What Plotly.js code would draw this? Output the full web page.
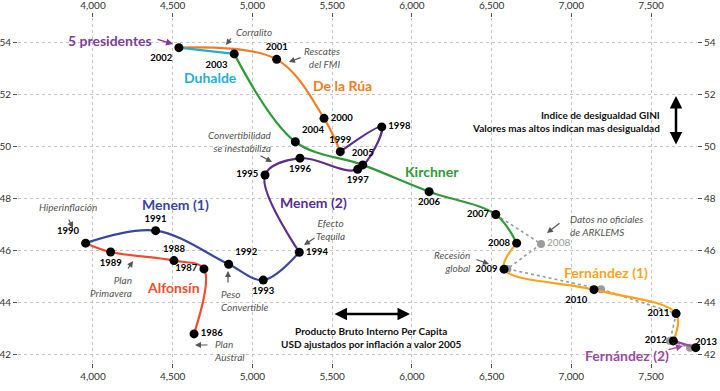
<!DOCTYPE html>
<html>
<head>
<meta charset="utf-8">
<script src="https://cdn.plot.ly/plotly-3.0.1.min.js"></script>
<style>html,body{margin:0;padding:0;background:#fff;}#chart{width:720px;height:391px;}</style>
</head>
<body>
<div id="chart"></div>
<script>
// ---- data ----
const years = [1986,1987,1988,1989,1990,1991,1992,1993,1994,1995,1996,1997,1998,1999,2000,2001,2002,2003,2004,2005,2006,2007,2008,2009,2010,2011,2012,2013];
const gdp   = [4634,4696,4508,4111,3954,4393,4851,5068,5294,5079,5298,5660,5811,5551,5449,5152,4539,4886,5269,5692,6108,6526,6657,6578,7142,7657,7640,7780];
const gini  = [42.81,45.31,45.63,45.96,46.30,46.78,45.49,44.88,45.95,48.92,49.57,49.14,50.77,49.82,51.10,53.37,53.82,53.58,50.20,49.31,48.28,47.40,46.30,45.30,44.51,43.59,42.54,42.28];

const arkYears = [2007,2008,2009,2010,2011,2012,2013];
const arkGdp   = [6526,6810,6599,7186,7657,7619,7744];
const arkGini  = [47.40,46.27,45.31,44.53,43.59,42.54,42.28];

const presNames = ['Alfonsín','Menem (1)','Menem (2)','De la Rúa','Duhalde','Kirchner','Fernández (1)','Fernández (2)'];
const presStart = [1986,1990,1994,1999,2002,2003,2008,2012];
const presEnd   = [1990,1994,1999,2002,2003,2008,2012,2013];

const xTicks = [4000,4500,5000,5500,6000,6500,7000,7500];
const yTicks = [42,44,46,48,50,52,54];

// ---- styles ----
const presColors = ['#ef4c2c','#3a45a0','#5b2e8f','#f47b22','#1eb0d2','#2f9a38','#f9a51b','#9b4c9e'];
const labelPos = ['middle right','middle left','top center','bottom center','top left','top center','top right','bottom center','middle right',
  'middle left','bottom center','bottom center','middle right','top center','middle right','top center','bottom left','bottom left',
  'top right','top center','bottom center','middle left','middle left','middle left','bottom left','middle left','middle left','top right'];

const FONT = 'Lato, "Open Sans", sans-serif';
const X0=3530, X1=7788, Y0=41.69, Y1=54.96;
const L=18, R=697, T=18, B=363;
function dx(p){return X0+(p-L)/(R-L)*(X1-X0);}
function dy(p){return Y1-(p-T)/(B-T)*(Y1-Y0);}

const lastIdx = years.length-1;
const traces = [];
// unofficial ARKLEMS series
traces.push({
  x: arkGdp, y: arkGini, mode:'lines+markers+text', type:'scatter',
  line:{color:'#9a9a9a', width:1.6, dash:'dot'},
  marker:{color:'#9a9a9a', size:8},
  text: arkYears.map(y => y===2008 ? String(y) : ''),
  textposition:'middle right',
  textfont:{family:FONT, size:10, color:'#9a9a9a'},
  cliponaxis:false, hoverinfo:'skip'
});
// president segments
presNames.forEach((n,i) => {
  const a = years.indexOf(presStart[i]), b = years.indexOf(presEnd[i]);
  traces.push({
    x: gdp.slice(a,b+1), y: gini.slice(a,b+1), mode:'lines', type:'scatter',
    line:{color:presColors[i], width:2.2, shape:'spline', smoothing:1},
    name:n, cliponaxis:false, hoverinfo:'skip'
  });
});
// official points (last year's label is placed as an annotation so it stays inside the page)
traces.push({
  x: gdp, y: gini, mode:'markers+text', type:'scatter',
  marker:{color:'#000', size:9},
  text: years.map((y,i) => i===lastIdx ? '' : '<b>'+y+'</b>'),
  textposition: labelPos,
  textfont:{family:FONT, size:9.5, color:'#000'},
  cliponaxis:false, hoverinfo:'skip'
});
// dummy for top/right axes
traces.push({x: gdp, y: gini, xaxis:'x2', yaxis:'y2', mode:'markers', marker:{opacity:0}, hoverinfo:'skip'});

const axBase = {
  showgrid:true, gridcolor:'#c4c4c4', griddash:'dot', gridwidth:1,
  zeroline:false, showline:false, ticks:'outside', ticklen:4, tickwidth:1, tickcolor:'#555',
  tickfont:{family:FONT, size:10, color:'#333'}
};
const xa = Object.assign({}, axBase, {range:[X0,X1], tickvals:xTicks, ticktext:xTicks.map(v=>v.toLocaleString('en-US'))});
const ya = Object.assign({}, axBase, {range:[Y0,Y1], tickvals:yTicks, ticktext:yTicks.map(String)});

const ann = [];
function arrow(hx,hy,tx,ty,color,width){
  ann.push({x:dx(hx), y:dy(hy), ax:tx-hx, ay:ty-hy, text:'', showarrow:true,
    arrowhead:2, arrowsize:1, arrowwidth:width||1.2, arrowcolor:color||'#555'});
}
function note(txt,px,py,anchor,opts){
  ann.push(Object.assign({x:dx(px), y:dy(py), text:txt, showarrow:false, xanchor:anchor||'center', yanchor:'middle',
    align:anchor==='right'?'right':(anchor==='left'?'left':'center'),
    font:{family:FONT, size:10, color:'#555'}}, opts||{}));
}
// last year label
ann.push({x:gdp[lastIdx], y:gini[lastIdx], text:'<b>'+years[lastIdx]+'</b>', showarrow:false,
  xanchor:'right', yanchor:'middle', xshift:24, yshift:6,
  font:{family:FONT, size:9.5, color:'#000'}});
// italic notes
note('<i>Hiperinflación</i>',68,207,'center');
note('<i>Plan<br>Primavera</i>',134,286,'right');
note('<i>Peso<br>Convertible</i>',219,300,'left');
note('<i>Plan<br>Austral</i>',212,350,'left');
note('<i>Efecto<br>Tequila</i>',330,229,'center');
note('<i>Convertibilidad<br>se inestabiliza</i>',274,141,'right');
note('<i>Corralito</i>',234,32,'left');
note('<i>Rescates<br>del FMI</i>',342,57,'right');
note('<i>Recesión<br>global</i>',473,261,'right');
note('<i>Datos no oficiales<br>de ARKLEMS</i>',568,225,'left');
// arrows
arrow(73,228,68,218);
arrow(133,261,127,270);
arrow(228,271,228,284);
arrow(195,345,209,345);
arrow(304,245,316,237);
arrow(272,162,259,155);
arrow(226,45,232,37);
arrow(289,62,302,57);
arrow(489,264,475,259);
arrow(547,233,561,222);
arrow(173,44,156,39,'#7b3f98',1.4);
arrow(683,346,667,350,'#9b4c9e',1.4);
// president labels
const presLabelPx = [[173,287],[175,204],[313,202],[342,85],[210,77],[432,171],[606,272],[627,355]];
presNames.forEach((n,i)=>{
  note('<b>'+n+'</b>',presLabelPx[i][0],presLabelPx[i][1],'center',{font:{family:FONT,size:14,color:presColors[i]}});
});
note('<b>5 presidentes</b>',110,40,'center',{font:{family:FONT,size:14,color:'#7b3f98'}});
// axis explanations
note('<b>Indice de desigualdad GINI<br>Valores mas altos indican mas desigualdad</b>',662,121,'right',{font:{family:FONT,size:10,color:'#111'}});
note('<b>Producto Bruto Interno Per Capita<br>USD ajustados por inflación a valor 2005</b>',371,337,'center',{font:{family:FONT,size:10,color:'#111'}});
// double arrows
ann.push({x:dx(676), y:dy(96), ax:0, ay:50, text:'', showarrow:true, arrowside:'end+start',
  arrowhead:2, startarrowhead:2, arrowsize:1, startarrowsize:1, arrowwidth:2.5, arrowcolor:'#000'});
ann.push({x:dx(410), y:dy(314), ax:-77, ay:0, text:'', showarrow:true, arrowside:'end+start',
  arrowhead:2, startarrowhead:2, arrowsize:1, startarrowsize:1, arrowwidth:2.5, arrowcolor:'#000'});

const layout = {
  width:720, height:391, margin:{l:L, r:720-R, t:T, b:391-B},
  paper_bgcolor:'#fff', plot_bgcolor:'#fff', showlegend:false,
  xaxis: xa,
  yaxis: ya,
  xaxis2: Object.assign({}, xa, {overlaying:'x', side:'top', matches:'x', showgrid:false}),
  yaxis2: Object.assign({}, ya, {overlaying:'y', side:'right', matches:'y', showgrid:false}),
  annotations: ann,
  font:{family:FONT}
};
Plotly.newPlot('chart', traces, layout, {staticPlot:true, displayModeBar:false});
</script>
</body>
</html>
